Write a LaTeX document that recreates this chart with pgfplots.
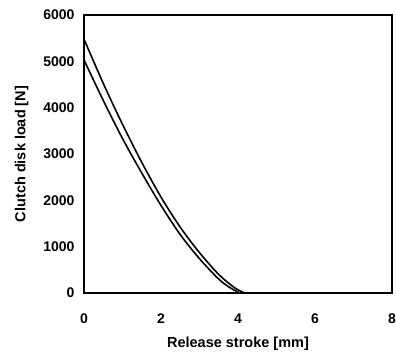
\documentclass[border=0pt]{standalone}
\usepackage{fontspec}
\setmainfont{Liberation Sans}
\usepackage{pgfplots}
\pgfplotsset{compat=1.18}
\begin{document}
\begin{tikzpicture}
\begin{axis}[
  scale only axis,
  width=308pt, height=278pt,
  xmin=0, xmax=8, ymin=0, ymax=6000,
  xtick={0,2,4,6,8}, ytick={0,1000,2000,3000,4000,5000,6000},
  scaled y ticks=false,
  /pgf/number format/1000 sep={},
  /pgf/number format/assume math mode=true,
  major tick length=0pt,
  axis line style={line width=1.4pt},
  tick label style={font=\fontsize{14}{16}\selectfont\bfseries},
  label style={font=\fontsize{14.5}{16}\selectfont\bfseries},
  xticklabel style={yshift=-17pt},
  yticklabel style={xshift=-6pt},
  xlabel={Release stroke [mm]},
  ylabel={Clutch disk load [N]},
  xlabel style={yshift=-7pt},
  ylabel style={yshift=8pt},
]
\addplot[black, line width=1.6pt, smooth, tension=0.5] coordinates {
(0,5480) (0.5,4524) (1.0,3640) (1.5,2820) (2.0,2070) (2.5,1420) (3.0,870) (3.5,400) (3.9,120) (4.17,0)
};
\addplot[black, line width=1.6pt] coordinates {(4.17,0) (8,0)};
\addplot[black, line width=1.6pt, smooth, tension=0.5] coordinates {
(0,5030) (0.5,4156) (1.0,3334) (1.5,2590) (2.0,1890) (2.5,1260) (3.0,740) (3.5,300) (3.8,110) (4.05,0)
};
\end{axis}
\pgfresetboundingbox
\path (current axis.south west) +(-84pt,-62pt) (current axis.north east) +(4pt,15pt);
\end{tikzpicture}
\end{document}
